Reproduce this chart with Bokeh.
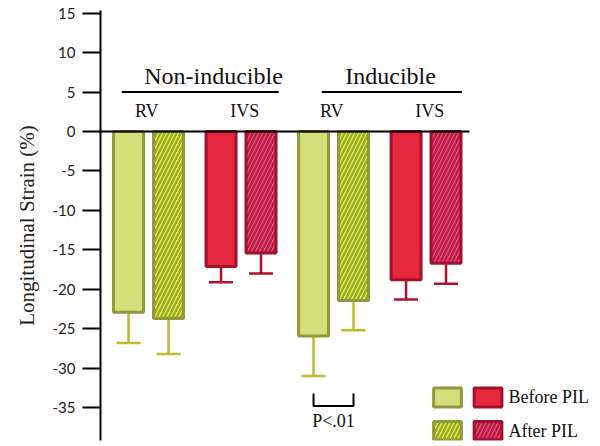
from bokeh.plotting import figure
from bokeh.models import Range1d, FixedTicker, ColumnDataSource
from bokeh.core.properties import value
from bokeh.embed import file_html
from bokeh.resources import INLINE

# ---- data ----
group_names = ["Non-inducible", "Inducible"]
regions = ["RV", "IVS", "RV", "IVS"]
before_mean = [-22.9, -17.1, -25.9, -18.8]
before_sd = [3.9, 2.0, 5.1, 2.5]
after_mean = [-23.7, -15.4, -21.4, -16.7]
after_sd = [4.5, 2.6, 3.8, 2.6]
y_ticks = [-35, -30, -25, -20, -15, -10, -5, 0, 5, 10, 15]
legend_labels = ["Before PIL", "After PIL"]
p_label = "P<.01"

SERIF = "Liberation Serif"
OFF = 0.216
BW = 0.324
X0 = -0.519

p = figure(width=600, height=446, output_backend="svg", toolbar_location=None,
           x_range=Range1d(X0, 4.886), y_range=Range1d(-39.16, 15.34),
           min_border_left=100, min_border_top=10, min_border_bottom=6, min_border_right=0,
           x_axis_location=None)
p.xgrid.visible = False
p.ygrid.visible = False
p.outline_line_color = None
p.background_fill_color = "white"
p.border_fill_color = "white"

ax = p.yaxis[0]
ax.ticker = FixedTicker(ticks=y_ticks)
ax.major_label_overrides = {t: str(t) for t in y_ticks}
ax.minor_tick_line_color = None
ax.major_tick_in = 0
ax.major_tick_out = 18
ax.major_tick_line_width = 2
ax.major_tick_line_color = "black"
ax.axis_line_width = 2
ax.axis_line_color = "black"
ax.major_label_text_font = "Lato"
ax.major_label_text_font_size = "15px"
ax.major_label_text_color = "#222222"
ax.major_label_standoff = 7
ax.axis_label = "Longitudinal Strain (%)"
ax.axis_label_text_font = SERIF
ax.axis_label_text_font_style = "normal"
ax.axis_label_text_font_size = "21px"
ax.axis_label_text_color = "#222222"
ax.axis_label_standoff = 11

green_fill, green_edge, green_err = "#d3e07a", "#8f9a3c", "#bdbd2c"
red_fill, red_edge, red_err = "#e6283f", "#a3102c", "#b0102c"
green_hatch_bg, green_hatch = "#e6f26a", "#9aae1c"
red_hatch_bg, red_hatch = "#e65d7a", "#b81844"

idx = list(range(len(regions)))
is_rv = [r == "RV" for r in regions]

bx = [i - OFF for i in idx]
ax_ = [i + OFF for i in idx]

before = ColumnDataSource(dict(
    x=bx, top=[0] * len(idx), bottom=before_mean,
    fill=[green_fill if g else red_fill for g in is_rv],
    edge=[green_edge if g else red_edge for g in is_rv],
))
after = ColumnDataSource(dict(
    x=ax_, top=[0] * len(idx), bottom=after_mean,
    fill=[green_hatch_bg if g else red_hatch_bg for g in is_rv],
    hatch=[green_hatch if g else red_hatch for g in is_rv],
    edge=[green_edge if g else red_edge for g in is_rv],
))

# error bars (below bars)
xs_all = bx + ax_
means = before_mean + after_mean
sds = before_sd + after_sd
ecol = [green_err if g else red_err for g in is_rv] * 2
ends = [m - s for m, s in zip(means, sds)]
p.segment(x0=xs_all, y0=means, x1=xs_all, y1=ends, line_color=ecol, line_width=2.5)
p.segment(x0=[x - 0.13 for x in xs_all], y0=ends, x1=[x + 0.13 for x in xs_all], y1=ends,
          line_color=ecol, line_width=2.5)

p.vbar(x="x", top="top", bottom="bottom", width=BW, source=before,
       fill_color="fill", line_color="edge", line_width=3)
p.vbar(x="x", top="top", bottom="bottom", width=BW, source=after,
       fill_color="fill", line_color="edge", line_width=3,
       hatch_pattern="/", hatch_color="hatch", hatch_scale=8, hatch_weight=2.5)

# zero line
p.segment(x0=[X0], y0=[0], x1=[3.47], y1=[0], line_color="black", line_width=2)

# group labels and lines
p.text(x=[0.703, 2.617], y=[7.1, 7.1], text=group_names, text_font=value(SERIF),
       text_font_size="24px", text_align="center", text_baseline="middle", text_color="#111111")
p.segment(x0=[-0.289, 1.873], y0=[5, 5], x1=[1.408, 3.387], y1=[5, 5],
          line_color="black", line_width=2)
p.text(x=[i + (0.04 if r == "IVS" else -0.02) for i, r in zip(idx, regions)], y=[2.66] * 4,
       text=regions, text_font=value(SERIF), text_font_size="18px",
       text_align="center", text_baseline="middle", text_color="#111111")

# significance bracket
p.multi_line(xs=[[2 - OFF, 2 - OFF, 2 + OFF, 2 + OFF]], ys=[[-33.2, -34.8, -34.8, -33.2]],
             line_color="black", line_width=2)
p.text(x=[2.0], y=[-36.7], text=[p_label], text_font=value(SERIF), text_font_size="18px",
       text_align="center", text_baseline="middle", text_color="#111111")

# legend
p.rect(x=[3.232, 3.67], y=[-33.7, -33.7], width=0.30, height=2.4,
       fill_color=[green_fill, red_fill], line_color=[green_edge, red_edge], line_width=3)
p.rect(x=[3.232, 3.67], y=[-37.9, -37.9], width=0.30, height=2.3,
       fill_color=[green_hatch_bg, red_hatch_bg], line_color=[green_edge, red_edge], line_width=3,
       hatch_pattern="/", hatch_color=[green_hatch, red_hatch], hatch_scale=8, hatch_weight=2.5)
p.text(x=[3.892, 3.892], y=[-33.7, -37.9], text=legend_labels, text_font=value(SERIF),
       text_font_size="18px", text_align="left", text_baseline="middle", text_color="#111111")

open("out.html", "w").write(file_html(p, INLINE))
